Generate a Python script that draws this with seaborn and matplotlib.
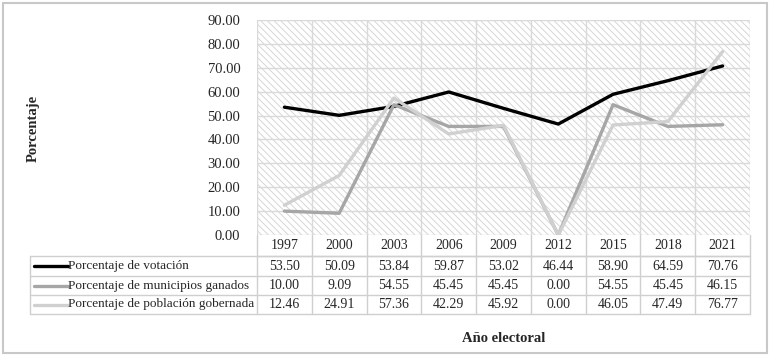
import numpy as np
import pandas as pd
import matplotlib
matplotlib.use('Agg')
import matplotlib.pyplot as plt
import seaborn as sns
from matplotlib.patches import Rectangle

# datos de la tabla
anios = ['1997', '2000', '2003', '2006', '2009', '2012', '2015', '2018', '2021']
votacion = [53.50, 50.09, 53.84, 59.87, 53.02, 46.44, 58.90, 64.59, 70.76]
municipios = [10.00, 9.09, 54.55, 45.45, 45.45, 0.00, 54.55, 45.45, 46.15]
poblacion = [12.46, 24.91, 57.36, 42.29, 45.92, 0.00, 46.05, 47.49, 76.77]
series = ['Porcentaje de votación', 'Porcentaje de municipios ganados',
          'Porcentaje de población gobernada']
colores = ['#000000', '#a6a6a6', '#d0d0d0']

sns.set_theme(style='white')
plt.rcParams['font.family'] = ['Liberation Serif', 'DejaVu Serif']
plt.rcParams['hatch.color'] = '#d6d6d6'
plt.rcParams['hatch.linewidth'] = 0.7

W, H = 771, 357
fig = plt.figure(figsize=(W / 100, H / 100), dpi=100)
fig.patch.set_facecolor('white')

# area del grafico en pixeles
px_l, px_r, px_t, px_b = 257, 750, 20, 235
ax = fig.add_axes([px_l / W, 1 - px_b / H, (px_r - px_l) / W, (px_b - px_t) / H])

df = pd.DataFrame({'x': np.tile(np.arange(len(anios)), 3),
                   'valor': votacion + municipios + poblacion,
                   'serie': np.repeat(series, len(anios))})
sns.lineplot(data=df, x='x', y='valor', hue='serie', palette=dict(zip(series, colores)),
             linewidth=2.4, legend=False, sort=False, ax=ax, zorder=3)

ax.set_xlim(-0.5, len(anios) - 0.5)
ax.set_ylim(0, 90)
ax.set_yticks(np.arange(0, 91, 10))
ax.set_yticklabels(['%.2f' % v for v in np.arange(0, 91, 10)], fontsize=10.5)
ax.set_xticks([])
ax.set_xlabel('')
ax.set_ylabel('')
ax.tick_params(axis='y', length=0, pad=12)
for s in ax.spines.values():
    s.set_visible(False)

# fondo rayado y rejilla
ax.add_patch(Rectangle((0, 0), 1, 1, transform=ax.transAxes, facecolor='white',
                       hatch='\\\\\\\\\\', edgecolor='#d6d6d6', linewidth=0, zorder=0))
gcol = '#d9d9d9'
for v in np.arange(0, 91, 10):
    ax.axhline(v, color=gcol, lw=1, zorder=1)
for i in range(len(anios) + 1):
    ax.axvline(i - 0.5, color=gcol, lw=1, zorder=1)

# tabla de datos
cat_w = (px_r - px_l) / len(anios)
x_tab = -0.5 - (px_l - 30) / cat_w
y_hdr = 256
filas = [256, 276, 295, 314]
tr = ax.get_xaxis_transform()
def fy(p):
    return (px_b - p) / (px_b - px_t)
tcol = '#cfcfcf'
kw = dict(transform=tr, clip_on=False, color=tcol, lw=1)
ax.plot([-0.5, len(anios) - 0.5], [fy(y_hdr)] * 2, **kw)
for p in filas:
    ax.plot([x_tab, len(anios) - 0.5], [fy(p)] * 2, **kw)
ax.plot([x_tab, x_tab], [fy(filas[0]), fy(filas[-1])], **kw)
for i in range(len(anios) + 1):
    ax.plot([i - 0.5] * 2, [fy(px_b), fy(filas[-1])], **kw)

for i, a in enumerate(anios):
    ax.text(i, fy((px_b + y_hdr) / 2), a, transform=tr, ha='center', va='center',
            fontsize=10, clip_on=False)
for r, (nombre, vals, c) in enumerate(zip(series, [votacion, municipios, poblacion], colores)):
    yc = fy((filas[r] + filas[r + 1]) / 2)
    ax.plot([x_tab + 4 / cat_w, x_tab + 38 / cat_w], [yc, yc], transform=tr,
            clip_on=False, color=c, lw=2.4)
    ax.text(x_tab + 38 / cat_w, yc, nombre, transform=tr, ha='left', va='center',
            fontsize=9.5, clip_on=False)
    for i, v in enumerate(vals):
        ax.text(i, yc, '%.2f' % v, transform=tr, ha='center', va='center',
                fontsize=10, clip_on=False)

fig.text(33 / W, 1 - 128 / H, 'Porcentaje', rotation=90, ha='center', va='center',
         fontsize=10.5, fontweight='bold')
fig.text((px_l + px_r) / 2 / W, 1 - 338 / H, 'Año electoral', ha='center', va='center',
         fontsize=10.5, fontweight='bold')

# borde exterior
fig.add_artist(Rectangle((3 / W, 1 - 353 / H), 764 / W, 350 / H, transform=fig.transFigure,
                         fill=False, edgecolor='#c8c8c8', lw=1.5))

fig.savefig('out.png', dpi=100, facecolor='white')
